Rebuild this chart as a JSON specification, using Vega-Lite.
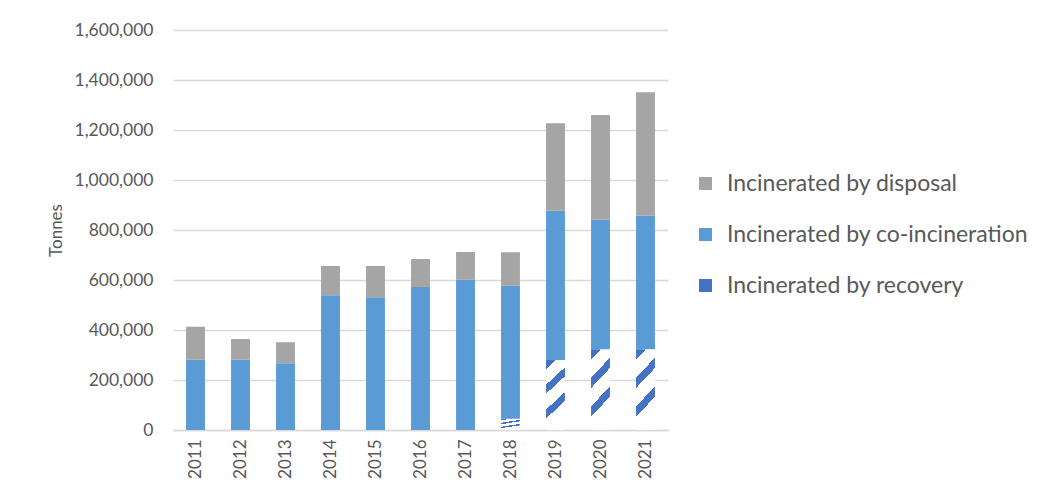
{
  "$schema": "https://vega.github.io/schema/vega-lite/v6.json",
  "width": 495,
  "height": 400,
  "padding": {"left": 47, "top": 21, "right": 0, "bottom": 0},
  "background": "white",
  "data": {
    "values": [
      {"year": "2011", "type": "Incinerated by co-incineration", "tonnes": 281000},
      {"year": "2011", "type": "Incinerated by disposal", "tonnes": 132000},
      {"year": "2012", "type": "Incinerated by co-incineration", "tonnes": 281000},
      {"year": "2012", "type": "Incinerated by disposal", "tonnes": 83000},
      {"year": "2013", "type": "Incinerated by co-incineration", "tonnes": 267000},
      {"year": "2013", "type": "Incinerated by disposal", "tonnes": 84000},
      {"year": "2014", "type": "Incinerated by co-incineration", "tonnes": 539000},
      {"year": "2014", "type": "Incinerated by disposal", "tonnes": 117000},
      {"year": "2015", "type": "Incinerated by co-incineration", "tonnes": 531000},
      {"year": "2015", "type": "Incinerated by disposal", "tonnes": 125000},
      {"year": "2016", "type": "Incinerated by co-incineration", "tonnes": 572000},
      {"year": "2016", "type": "Incinerated by disposal", "tonnes": 112000},
      {"year": "2017", "type": "Incinerated by co-incineration", "tonnes": 601000},
      {"year": "2017", "type": "Incinerated by disposal", "tonnes": 111000},
      {"year": "2018", "type": "Incinerated by recovery", "tonnes": 45000},
      {"year": "2018", "type": "Incinerated by co-incineration", "tonnes": 532000},
      {"year": "2018", "type": "Incinerated by disposal", "tonnes": 134000},
      {"year": "2019", "type": "Incinerated by recovery", "tonnes": 280000},
      {"year": "2019", "type": "Incinerated by co-incineration", "tonnes": 597000},
      {"year": "2019", "type": "Incinerated by disposal", "tonnes": 350000},
      {"year": "2020", "type": "Incinerated by recovery", "tonnes": 323000},
      {"year": "2020", "type": "Incinerated by co-incineration", "tonnes": 518000},
      {"year": "2020", "type": "Incinerated by disposal", "tonnes": 419000},
      {"year": "2021", "type": "Incinerated by recovery", "tonnes": 323000},
      {"year": "2021", "type": "Incinerated by co-incineration", "tonnes": 534000},
      {"year": "2021", "type": "Incinerated by disposal", "tonnes": 494000}
    ]
  },
  "transform": [
    {"calculate": "indexof(['Incinerated by recovery', 'Incinerated by co-incineration', 'Incinerated by disposal'], datum.type)", "as": "stackOrder"}
  ],
  "mark": {"type": "bar"},
  "encoding": {
    "x": {
      "field": "year",
      "type": "ordinal",
      "scale": {"paddingInner": 0.58, "paddingOuter": 0.29},
      "axis": {
        "title": null,
        "labelAngle": -90,
        "labelFontSize": 17,
        "labelColor": "#595959",
        "labelPadding": 9,
        "ticks": false,
        "domainColor": "#D9D9D9",
        "domainWidth": 1.5
      }
    },
    "y": {
      "field": "tonnes",
      "type": "quantitative",
      "stack": "zero",
      "scale": {"domain": [0, 1600000]},
      "axis": {
        "title": "Tonnes",
        "titleFontSize": 17,
        "titleFontWeight": "normal",
        "titleColor": "#595959",
        "titlePadding": 9,
        "values": [0, 200000, 400000, 600000, 800000, 1000000, 1200000, 1400000, 1600000],
        "format": ",d",
        "labelFontSize": 17.5,
        "labelColor": "#595959",
        "labelPadding": 20,
        "ticks": false,
        "domain": false,
        "gridColor": "#D9D9D9",
        "gridWidth": 1.5
      }
    },
    "order": {"field": "stackOrder", "type": "quantitative", "sort": "ascending"},
    "color": {
      "condition": {
        "test": "datum.type === 'Incinerated by recovery'",
        "value": {
          "gradient": "linear",
          "x1": 0, "y1": 0, "x2": 0.25, "y2": 1,
          "stops": [
            {"offset": 0, "color": "#4472C4"},
            {"offset": 0.12, "color": "#4472C4"},
            {"offset": 0.12, "color": "#FFFFFF"},
            {"offset": 0.333, "color": "#FFFFFF"},
            {"offset": 0.333, "color": "#4472C4"},
            {"offset": 0.453, "color": "#4472C4"},
            {"offset": 0.453, "color": "#FFFFFF"},
            {"offset": 0.667, "color": "#FFFFFF"},
            {"offset": 0.667, "color": "#4472C4"},
            {"offset": 0.787, "color": "#4472C4"},
            {"offset": 0.787, "color": "#FFFFFF"},
            {"offset": 1, "color": "#FFFFFF"}
          ]
        }
      },
      "field": "type",
      "type": "nominal",
      "sort": ["Incinerated by disposal", "Incinerated by co-incineration", "Incinerated by recovery"],
      "scale": {
        "domain": ["Incinerated by disposal", "Incinerated by co-incineration", "Incinerated by recovery"],
        "range": ["#A5A5A5", "#5B9BD5", "#4472C4"]
      },
      "legend": {
        "title": null,
        "orient": "none",
        "legendX": 521,
        "legendY": 142,
        "symbolType": "square",
        "symbolSize": 169,
        "symbolStrokeWidth": 0,
        "labelFontSize": 23,
        "labelColor": "#595959",
        "labelOffset": 10,
        "rowPadding": 27,
        "labelLimit": 400
      }
    }
  },
  "config": {
    "font": "Lato",
    "view": {"stroke": null}
  }
}
